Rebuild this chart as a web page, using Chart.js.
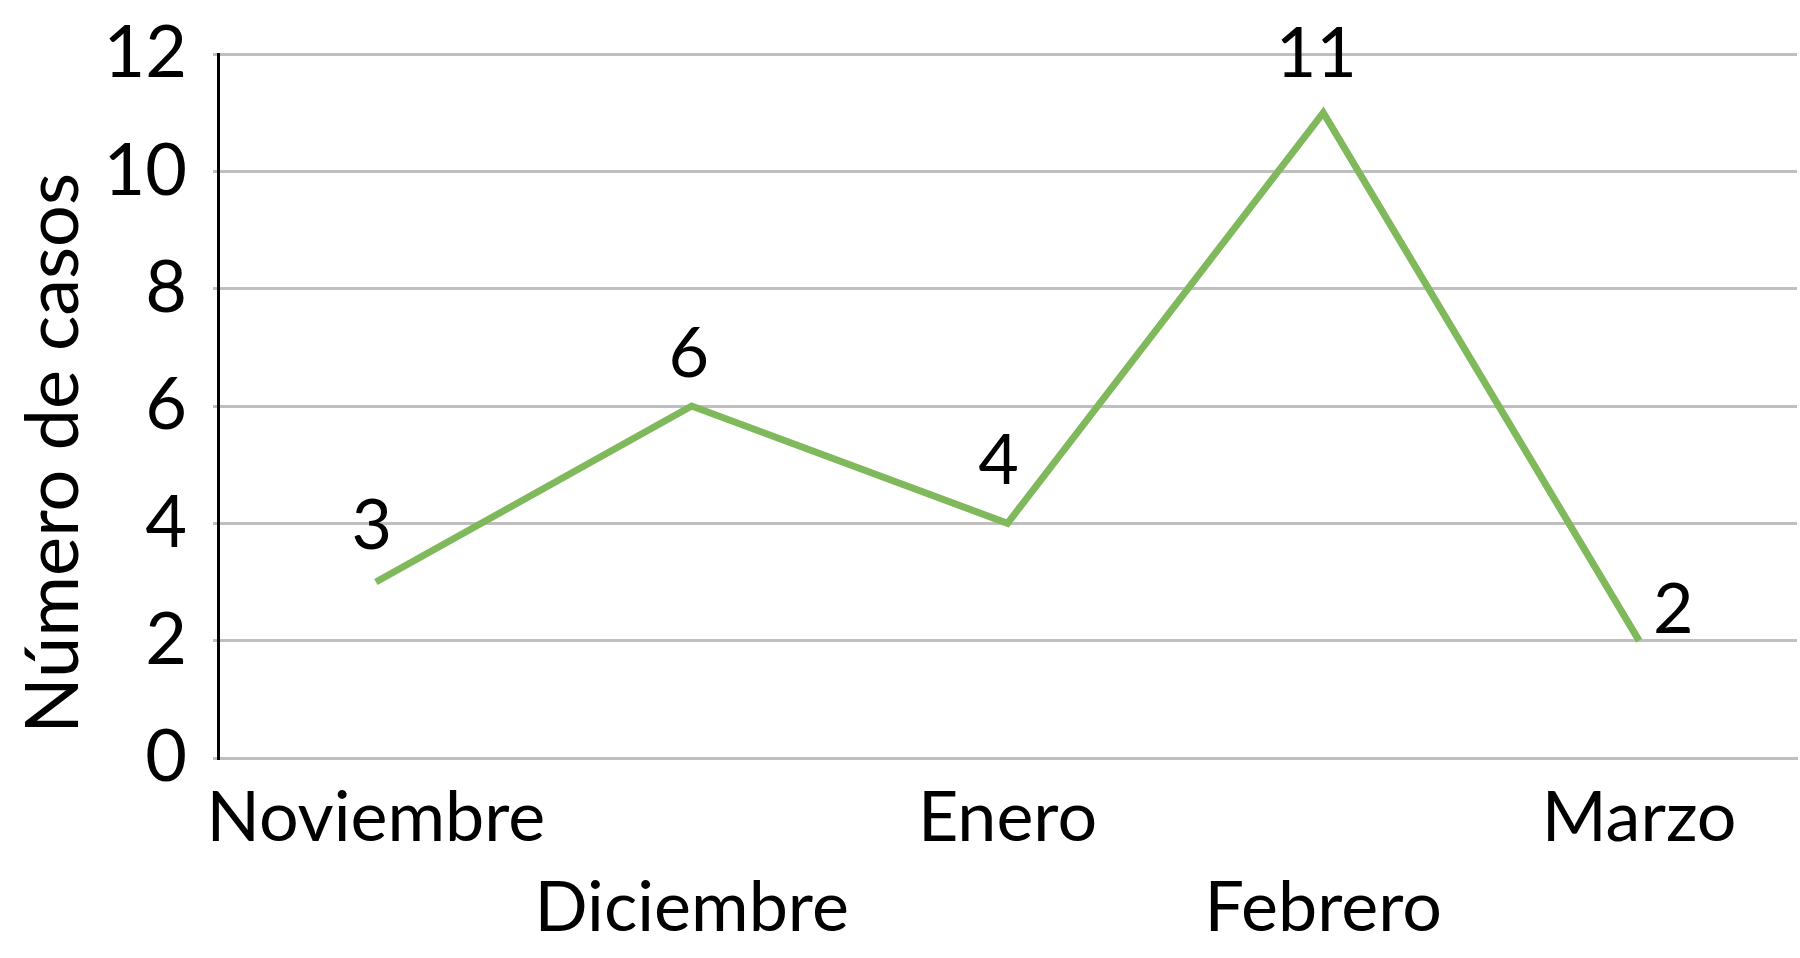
<!DOCTYPE html>
<html lang="es">
<head>
  <meta charset="UTF-8">
  <title>Número de casos</title>
  <style>
    body {
      margin: 0;
      padding: 0;
      background: #ffffff;
    }
    .chart-container {
      width: 1800px;
      height: 958px;
    }
  </style>
</head>
<body>
  <div class="chart-container">
    <canvas id="casesChart"></canvas>
  </div>

  <script src="https://cdn.jsdelivr.net/npm/chart.js"></script>
  <script>
    // Data
    const months = ['Noviembre', 'Diciembre', 'Enero', 'Febrero', 'Marzo'];
    const cases = [3, 6, 4, 11, 2];
    const yTicks = [0, 2, 4, 6, 8, 10, 12];

    const FONT = 'Lato, "Open Sans", sans-serif';

    // label offsets relative to each point (styling only)
    const labelOffsets = [
      { dx: -4, dy: -56, align: 'center' },
      { dx: -3, dy: -52, align: 'center' },
      { dx: -9, dy: -62, align: 'center' },
      { dx: -7, dy: -58, align: 'center' },
      { dx: 14, dy: -30, align: 'left' },
    ];

    const valueLabels = {
      id: 'valueLabels',
      afterDatasetsDraw(chart) {
        const ctx = chart.ctx;
        const meta = chart.getDatasetMeta(0);
        ctx.save();
        ctx.font = '70px ' + FONT;
        ctx.fillStyle = '#000000';
        ctx.textBaseline = 'middle';
        meta.data.forEach((pt, i) => {
          const o = labelOffsets[i];
          ctx.textAlign = o.align;
          ctx.fillText(String(cases[i]), pt.x + o.dx, pt.y + o.dy);
        });
        ctx.restore();
      }
    };

    const ctx = document.getElementById('casesChart').getContext('2d');
    const casesChart = new Chart(ctx, {
      type: 'line',
      data: {
        labels: months,
        datasets: [{
          label: 'Casos',
          data: cases,
          borderColor: '#7FB95C',
          borderWidth: 7,
          borderJoinStyle: 'miter',
          pointRadius: 0,
          tension: 0,
          fill: false,
        }],
      },
      options: {
        responsive: true,
        maintainAspectRatio: false,
        animation: false,
        layout: {
          padding: { top: 54, right: 3, left: 0, bottom: 0 }
        },
        plugins: {
          legend: { display: false },
          tooltip: { enabled: false },
        },
        scales: {
          x: {
            offset: true,
            grid: { display: false, drawTicks: false },
            border: { display: true, color: '#BFBFBF', width: 3 },
            ticks: {
              color: '#000000',
              font: { family: FONT, size: 70, lineHeight: 1.28 },
              padding: 16,
              maxRotation: 0,
              autoSkip: false,
              callback: function (value, index) {
                const name = months[index];
                return index % 2 === 0 ? [name, ''] : ['', name];
              }
            },
            afterFit(scale) {
              scale.height = 200;
            }
          },
          y: {
            min: 0,
            max: 12,
            afterBuildTicks(scale) {
              scale.ticks = yTicks.map(v => ({ value: v }));
            },
            grid: {
              color: '#BFBFBF',
              lineWidth: 3,
              drawTicks: true,
              tickLength: 5,
            },
            border: { display: true, color: '#000000', width: 3 },
            ticks: {
              color: '#000000',
              font: { family: FONT, size: 72 },
              padding: 26,
            },
            title: {
              display: true,
              // trailing spaces push the rotated title a little lower, as in the original
              text: 'Número de casos\u00A0\u00A0\u00A0\u00A0\u00A0',
              color: '#000000',
              font: { family: FONT, size: 74 },
              padding: { top: 10, bottom: 0 },
            },
            afterFit(scale) {
              scale.width = 218;
              scale.paddingTop = 0;
              scale.paddingBottom = 0;
            }
          },
        },
      },
      plugins: [valueLabels],
    });
  </script>
</body>
</html>
